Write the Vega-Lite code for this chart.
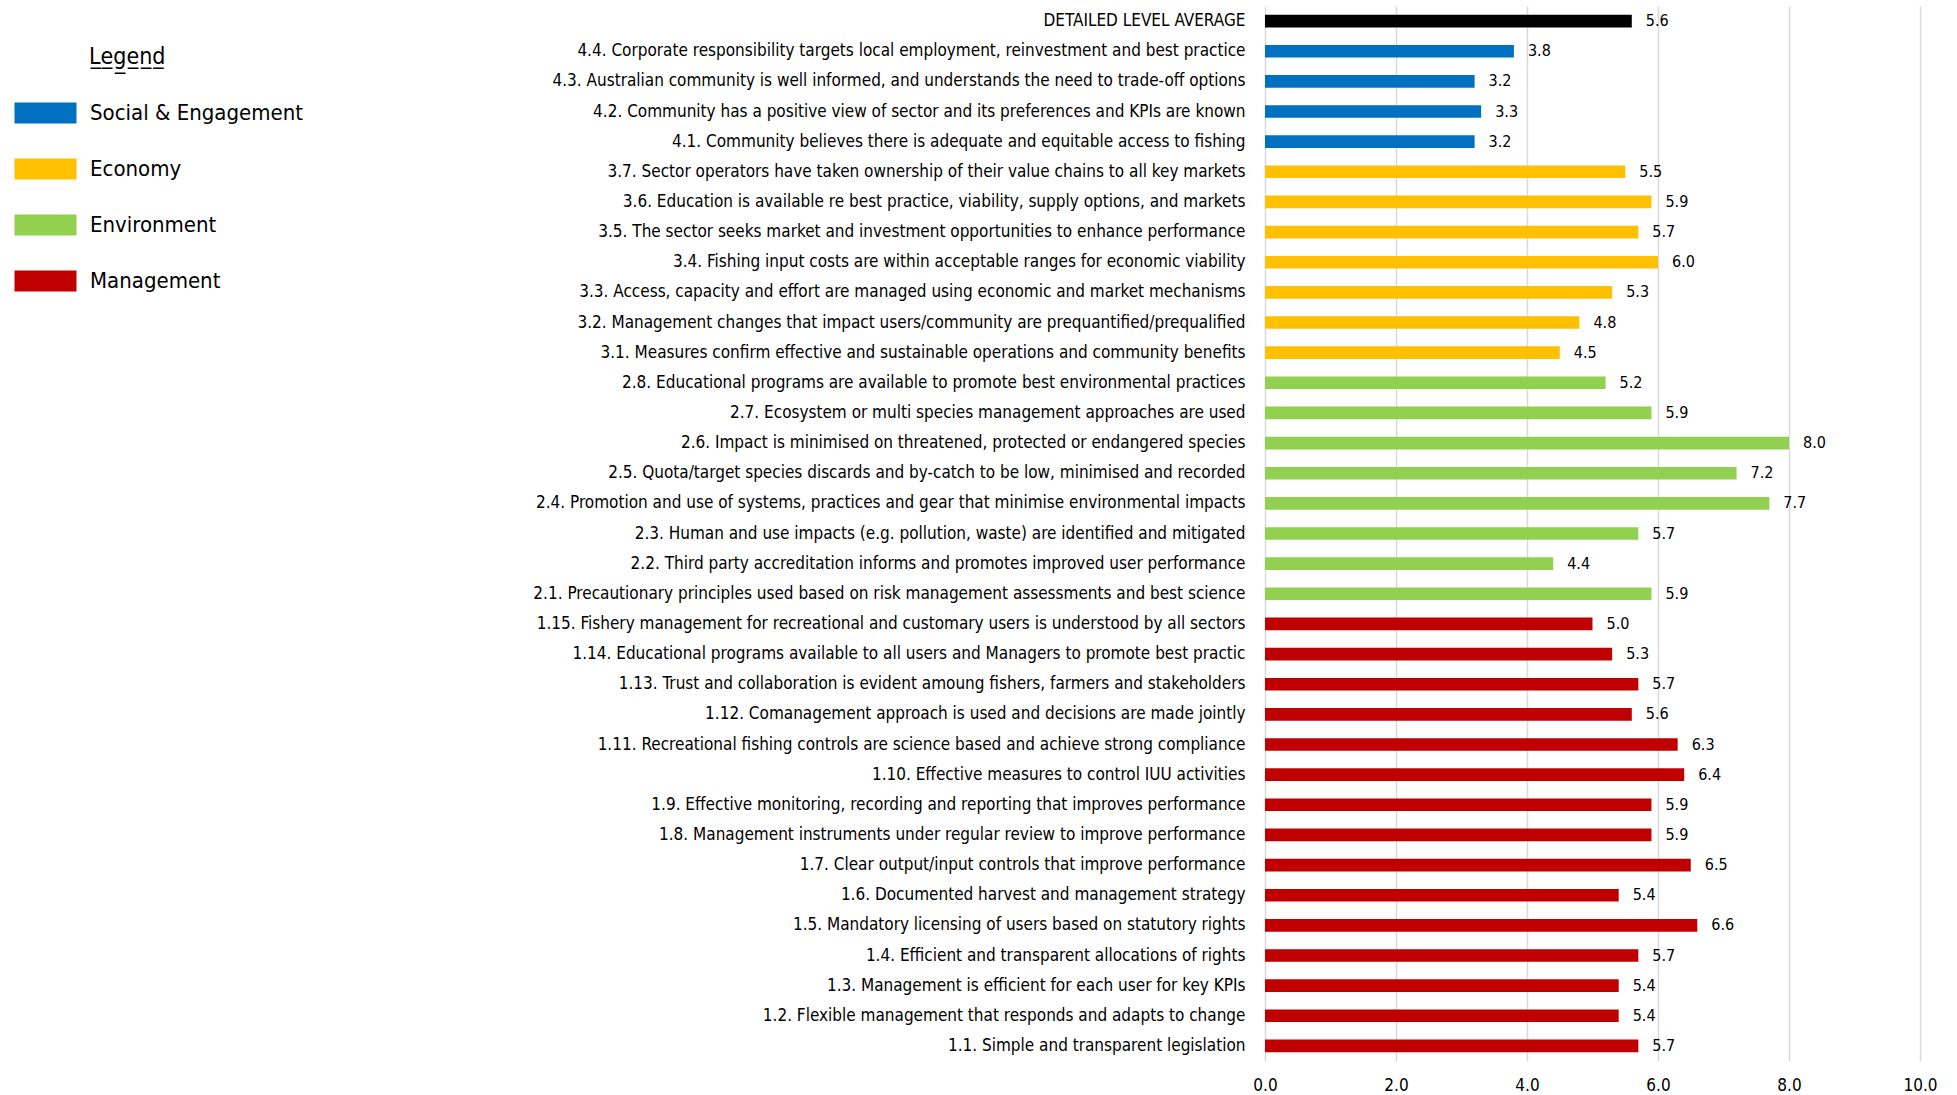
{
  "$schema": "https://vega.github.io/schema/vega-lite/v6.json",
  "autosize": {"type": "none"},
  "padding": {"left": 1265, "top": 6, "right": 37, "bottom": 34},
  "width": 655,
  "height": 1055,
  "config": {
    "font": "DejaVu Sans Condensed, Liberation Sans, sans-serif",
    "view": {"stroke": null},
    "background": "white"
  },
  "data": {
    "values": [
      {"item": "DETAILED LEVEL AVERAGE", "score": 5.6, "pillar": "Average"},
      {"item": "4.4. Corporate responsibility targets local employment, reinvestment and best practice", "score": 3.8, "pillar": "Social & Engagement"},
      {"item": "4.3. Australian community is well informed, and understands the need to trade-off options", "score": 3.2, "pillar": "Social & Engagement"},
      {"item": "4.2. Community has a positive view of sector and its preferences and KPIs are known", "score": 3.3, "pillar": "Social & Engagement"},
      {"item": "4.1. Community believes there is adequate and equitable access to fishing", "score": 3.2, "pillar": "Social & Engagement"},
      {"item": "3.7. Sector operators have taken ownership of their value chains to all key markets", "score": 5.5, "pillar": "Economy"},
      {"item": "3.6. Education is available re best practice, viability, supply options, and markets ", "score": 5.9, "pillar": "Economy"},
      {"item": "3.5. The sector seeks market and investment opportunities to enhance performance", "score": 5.7, "pillar": "Economy"},
      {"item": "3.4. Fishing input costs are within acceptable ranges for economic viability", "score": 6.0, "pillar": "Economy"},
      {"item": "3.3. Access, capacity and effort are managed using economic and market mechanisms", "score": 5.3, "pillar": "Economy"},
      {"item": "3.2. Management changes that impact users/community are prequantified/prequalified", "score": 4.8, "pillar": "Economy"},
      {"item": "3.1. Measures confirm effective and sustainable operations and community benefits", "score": 4.5, "pillar": "Economy"},
      {"item": "2.8. Educational programs are available to promote best environmental practices", "score": 5.2, "pillar": "Environment"},
      {"item": "2.7. Ecosystem or multi species management approaches are used", "score": 5.9, "pillar": "Environment"},
      {"item": "2.6. Impact is minimised on threatened, protected or endangered species", "score": 8.0, "pillar": "Environment"},
      {"item": "2.5. Quota/target species discards and by-catch to be low, minimised and recorded", "score": 7.2, "pillar": "Environment"},
      {"item": "2.4. Promotion and use of systems, practices and gear that minimise environmental impacts", "score": 7.7, "pillar": "Environment"},
      {"item": "2.3. Human and use impacts (e.g. pollution, waste) are identified and mitigated", "score": 5.7, "pillar": "Environment"},
      {"item": "2.2. Third party accreditation informs and promotes improved user performance", "score": 4.4, "pillar": "Environment"},
      {"item": "2.1. Precautionary principles used based on risk management assessments and best science", "score": 5.9, "pillar": "Environment"},
      {"item": "1.15. Fishery management for recreational and customary users is understood by all sectors", "score": 5.0, "pillar": "Management"},
      {"item": "1.14. Educational programs available to all users and Managers to promote best practic", "score": 5.3, "pillar": "Management"},
      {"item": "1.13. Trust and collaboration is evident amoung fishers, farmers and stakeholders", "score": 5.7, "pillar": "Management"},
      {"item": "1.12. Comanagement approach is used and decisions are made jointly", "score": 5.6, "pillar": "Management"},
      {"item": "1.11. Recreational fishing controls are science based and achieve strong compliance", "score": 6.3, "pillar": "Management"},
      {"item": "1.10. Effective measures to control IUU activities", "score": 6.4, "pillar": "Management"},
      {"item": "1.9. Effective monitoring, recording and reporting that improves performance", "score": 5.9, "pillar": "Management"},
      {"item": "1.8. Management instruments under regular review to improve performance", "score": 5.9, "pillar": "Management"},
      {"item": "1.7. Clear output/input controls that improve performance", "score": 6.5, "pillar": "Management"},
      {"item": "1.6. Documented harvest and management strategy", "score": 5.4, "pillar": "Management"},
      {"item": "1.5. Mandatory licensing of users based on statutory rights", "score": 6.6, "pillar": "Management"},
      {"item": "1.4. Efficient and transparent allocations of rights", "score": 5.7, "pillar": "Management"},
      {"item": "1.3. Management is efficient for each user for key KPIs", "score": 5.4, "pillar": "Management"},
      {"item": "1.2. Flexible management that responds and adapts to change", "score": 5.4, "pillar": "Management"},
      {"item": "1.1. Simple and transparent legislation", "score": 5.7, "pillar": "Management"}
    ]
  },
  "encoding": {
    "y": {
      "field": "item",
      "type": "nominal",
      "sort": null,
      "title": null,
      "scale": {"paddingInner": 0.58, "paddingOuter": 0.29},
      "axis": {
        "labelFontSize": 17,
        "labelColor": "#000000",
        "labelLimit": 0,
        "labelPadding": 20,
        "ticks": false,
        "domain": false
      }
    },
    "x": {
      "field": "score",
      "type": "quantitative",
      "title": null,
      "scale": {"domain": [0, 10], "nice": false},
      "axis": {
        "values": [0, 2, 4, 6, 8, 10],
        "format": ".1f",
        "labelFontSize": 17,
        "labelColor": "#000000",
        "labelPadding": 16,
        "labelFlush": false,
        "ticks": false,
        "domain": false,
        "grid": true,
        "gridColor": "#d9d9d9",
        "gridWidth": 1.5
      }
    }
  },
  "layer": [
    {
      "mark": {"type": "bar"},
      "encoding": {
        "color": {
          "field": "pillar",
          "type": "nominal",
          "scale": {
            "domain": ["Social & Engagement", "Economy", "Environment", "Management", "Average"],
            "range": ["#0070c0", "#ffc000", "#92d050", "#c00000", "#000000"]
          },
          "legend": {
            "values": ["Social & Engagement", "Economy", "Environment", "Management"],
            "orient": "none",
            "legendX": -1176,
            "legendY": 40,
            "title": "L\u0332e\u0332g\u0332e\u0332n\u0332d\u0332",
            "titleFontSize": 23,
            "titleFontWeight": "normal",
            "titleColor": "#000000",
            "titlePadding": 33,
            "titleAnchor": "start",
            "labelFontSize": 22,
            "labelColor": "#000000",
            "labelLimit": 0,
            "symbolType": "M-1,-1H4.905V1H-1Z",
            "symbolSize": 441,
            "symbolStrokeWidth": 0,
            "symbolOpacity": 1,
            "symbolOffset": -75,
            "labelOffset": 54,
            "rowPadding": 34
          }
        }
      }
    },
    {
      "mark": {"type": "text", "align": "left", "baseline": "middle", "dx": 14, "fontSize": 16, "color": "#000000"},
      "encoding": {
        "text": {"field": "score", "type": "quantitative", "format": ".1f"}
      }
    }
  ]
}
